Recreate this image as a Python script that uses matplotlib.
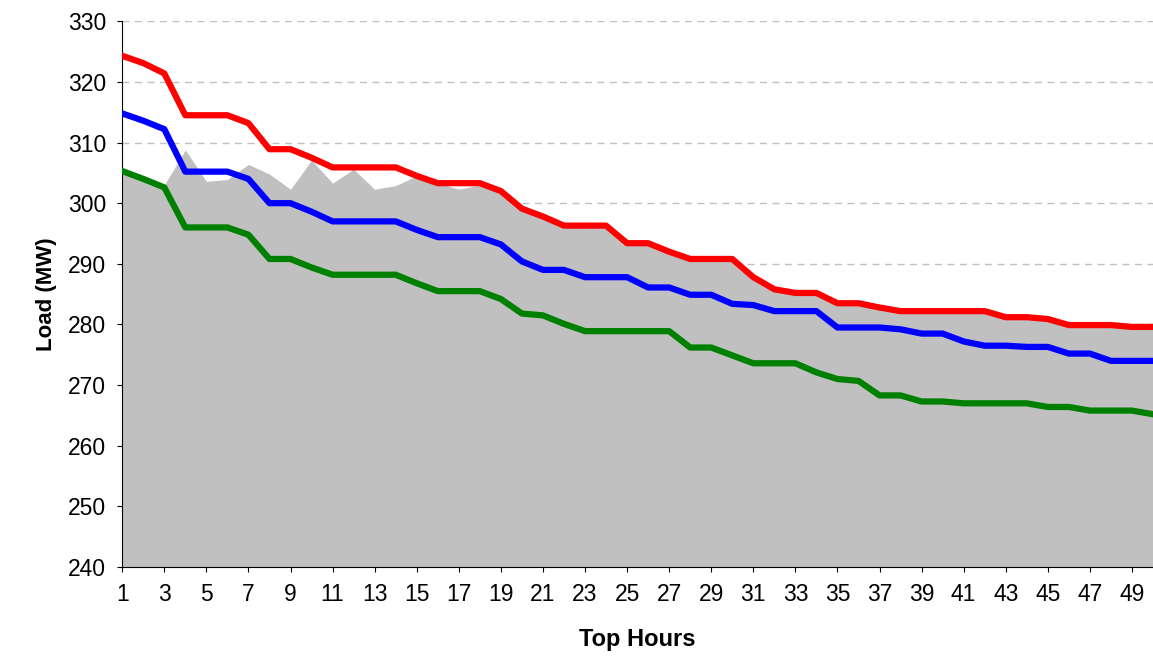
import numpy as np
import matplotlib.pyplot as plt

plt.rcParams['font.family'] = ['Liberation Sans', 'DejaVu Sans']

hours = np.arange(1, 51)
red = [324.3, 323.1, 321.4, 314.5, 314.5, 314.5, 313.2, 308.9, 308.9, 307.5,
       305.9, 305.9, 305.9, 305.9, 304.5, 303.3, 303.3, 303.3, 302.0, 299.1,
       297.8, 296.3, 296.3, 296.3, 293.4, 293.4, 292.0, 290.8, 290.8, 290.8,
       287.8, 285.8, 285.2, 285.2, 283.5, 283.5, 282.8, 282.2, 282.2, 282.2,
       282.2, 282.2, 281.2, 281.2, 280.9, 279.9, 279.9, 279.9, 279.6, 279.6]
blue = [314.8, 313.6, 312.2, 305.2, 305.2, 305.2, 304.0, 300.0, 300.0, 298.6,
        297.0, 297.0, 297.0, 297.0, 295.6, 294.4, 294.4, 294.4, 293.2, 290.4,
        289.0, 289.0, 287.8, 287.8, 287.8, 286.1, 286.1, 284.9, 284.9, 283.4,
        283.2, 282.2, 282.2, 282.2, 279.5, 279.5, 279.5, 279.2, 278.5, 278.5,
        277.2, 276.5, 276.5, 276.3, 276.3, 275.2, 275.2, 274.0, 274.0, 274.0]
green = [305.3, 304.0, 302.6, 296.0, 296.0, 296.0, 294.8, 290.8, 290.8, 289.4,
         288.2, 288.2, 288.2, 288.2, 286.8, 285.5, 285.5, 285.5, 284.2, 281.8,
         281.5, 280.1, 278.9, 278.9, 278.9, 278.9, 278.9, 276.2, 276.2, 274.9,
         273.6, 273.6, 273.6, 272.1, 271.0, 270.7, 268.3, 268.3, 267.3, 267.3,
         267.0, 267.0, 267.0, 267.0, 266.4, 266.4, 265.8, 265.8, 265.8, 265.2]
gray_head = [305.3, 304.0, 303.0, 308.8, 303.6, 303.9, 306.4, 304.8, 302.3, 307.1,
             303.3, 305.6, 302.3, 302.9, 304.5, 303.3, 302.3, 303.0]
gray = gray_head + red[len(gray_head):]

fig = plt.figure(figsize=(11.53, 6.64), dpi=100)
ax = fig.add_axes([0.106, 0.146, 0.894, 0.822])
ax.set_axisbelow(True)
ax.yaxis.grid(True, color='#c0c0c0', linestyle=(0, (5, 4)), lw=1, zorder=0)
ax.fill_between(hours, 240, gray, color='#c0c0c0', linewidth=0, zorder=1)
ax.plot(hours, red, color='#ff0000', lw=4.5, zorder=3)
ax.plot(hours, blue, color='#0000ff', lw=4.5, zorder=3)
ax.plot(hours, green, color='#008000', lw=4.5, zorder=3)

ax.set_xlim(1, 50)
ax.set_ylim(240, 330)
ax.set_yticks(np.arange(240, 331, 10))
ax.set_xticks(np.arange(1, 50, 2))
for s in ['top', 'right']:
    ax.spines[s].set_visible(False)
ax.tick_params(labelsize=16.5, direction='out', pad=8)
ax.set_ylabel('Load (MW)', fontsize=16, fontweight='bold', labelpad=8)
ax.set_xlabel('Top Hours', fontsize=17, fontweight='bold', labelpad=16)

fig.savefig('out.png')
